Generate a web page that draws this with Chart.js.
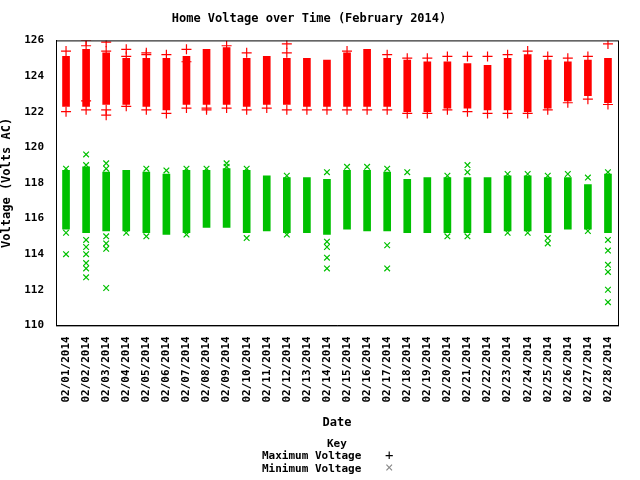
<!DOCTYPE html>
<html><head><meta charset="utf-8">
<script src="https://cdn.jsdelivr.net/npm/chart.js@4"></script>
<style>
body{margin:0;background:#fff;}
#w{position:relative;width:640px;height:480px;}
.lg{position:absolute;font:bold 11px "DejaVu Sans Mono",monospace;color:#000;white-space:pre;}
</style></head><body>
<div id="w"><canvas id="c" width="640" height="480"></canvas>
<div class="lg" style="left:327px;top:437px;">Key</div>
<div class="lg" style="left:262px;top:449px;">Maximum Voltage</div>
<div class="lg" style="left:262px;top:462px;">Minimum Voltage</div>
<div class="lg" style="left:385px;top:447px;font-size:14px;font-weight:normal;">+</div>
<div class="lg" style="left:385px;top:459px;font-size:14px;font-weight:normal;color:#888;">×</div>
</div>
<script>
const dates=["02/01/2014","02/02/2014","02/03/2014","02/04/2014","02/05/2014","02/06/2014","02/07/2014","02/08/2014","02/09/2014","02/10/2014","02/11/2014","02/12/2014","02/13/2014","02/14/2014","02/15/2014","02/16/2014","02/17/2014","02/18/2014","02/19/2014","02/20/2014","02/21/2014","02/22/2014","02/23/2014","02/24/2014","02/25/2014","02/26/2014","02/27/2014","02/28/2014"];
const maxLo=[122.3,122.3,122.4,122.4,122.3,122.1,122.4,122.4,122.4,122.3,122.4,122.4,122.3,122.3,122.3,122.3,122.3,122.0,122.0,122.2,122.2,122.1,122.1,122.0,122.2,122.6,122.9,122.5];
const maxHi=[125.1,125.5,125.3,125.0,125.0,125.0,125.1,125.5,125.6,125.0,125.1,125.0,125.0,124.9,125.3,125.5,125.0,124.9,124.8,124.8,124.7,124.6,125.0,125.2,124.9,124.8,124.9,125.0];
const maxOut=[[125.4,122.0],[126.0,125.7,122.1,122.6],[125.9,125.4,122.1,121.8],[125.5,125.1,122.3],[125.3,125.2,122.1],[125.2,121.9],[125.5,124.8,122.2],[122.1,122.2],[125.7,122.2],[125.3,122.1],[122.2],[125.8,125.3,122.1],[122.1],[122.1],[125.4,122.1],[122.1],[125.2,122.1],[125.0,121.9],[125.0,121.9],[125.1,122.1],[125.1,122.0],[125.1,121.9],[125.2,121.9],[125.4,121.9],[125.1,122.1],[125.0,122.5],[125.1,122.7],[125.8,122.4]];
const minLo=[115.4,115.2,115.3,115.3,115.2,115.1,115.2,115.5,115.5,115.2,115.3,115.2,115.2,115.1,115.4,115.3,115.3,115.2,115.2,115.2,115.2,115.2,115.3,115.3,115.2,115.4,115.4,115.2];
const minHi=[118.7,118.9,118.6,118.7,118.6,118.5,118.7,118.7,118.8,118.7,118.4,118.3,118.3,118.2,118.7,118.7,118.6,118.2,118.3,118.3,118.3,118.3,118.4,118.4,118.3,118.3,117.9,118.5];
const minOut=[[118.8,115.2,114.0],[119.6,119.0,115.7,114.8,114.4,114.0,113.5,113.2,112.7],[119.1,118.8,115.5,115.0,114.6,114.3,112.1],[115.2],[118.8,115.0],[118.7,118.3],[118.8,115.1],[118.8],[119.1,118.9],[118.8,114.9],[],[118.4,115.1],[],[118.6,114.7,114.4,113.8,113.2],[118.9],[118.9],[118.8,114.5,113.2],[118.6],[],[118.4,115.0],[119.0,118.6,115.0],[],[118.5,115.2],[118.5,115.2],[118.4,114.9,114.6],[118.5],[118.3,115.3],[118.6,114.8,114.2,113.4,113.0,112.0,111.3]];
const yTicks=[110,112,114,116,118,120,122,124,126];

const F='"DejaVu Sans Mono", monospace';
const pts=(arr)=>arr.flatMap((v,i)=>v.map(y=>({x:i+1,y})));
const border={id:'border',afterDatasetsDraw(ch){const a=ch.chartArea,c=ch.ctx;c.save();c.strokeStyle='#000';c.lineWidth=1;c.strokeRect(a.left+.5,a.top+.5,a.right-a.left,a.bottom-a.top);c.restore();}};
new Chart(document.getElementById('c'),{
 type:'bar',
 data:{datasets:[
  {type:'bar',data:maxLo.map((v,i)=>({x:i+1,y:[v,maxHi[i]]})),backgroundColor:'#ff0000',barThickness:7,grouped:false},
  {type:'bar',data:minLo.map((v,i)=>({x:i+1,y:[v,minHi[i]]})),backgroundColor:'#00c000',barThickness:7,grouped:false},
  {type:'scatter',data:pts(maxOut),pointStyle:'cross',radius:5,borderColor:'#ff0000',borderWidth:1.2},
  {type:'scatter',data:pts(minOut),pointStyle:'crossRot',radius:4,borderColor:'#00c000',borderWidth:1.2}
 ]},
 options:{responsive:false,animation:false,
  layout:{padding:{right:22,bottom:46}},
  plugins:{legend:{display:false},tooltip:{enabled:false},
   title:{display:true,text:'Home Voltage over Time (February 2014)',color:'#000',font:{family:F,size:12,weight:'bold'},padding:{top:12,bottom:14}}},
  scales:{
   x:{type:'linear',min:1,max:28,grid:{display:false},border:{color:'#000'},
      afterBuildTicks(s){s.ticks=dates.map((d,i)=>({value:i+1}));},
      ticks:{autoSkip:false,maxRotation:90,minRotation:90,color:'#000',font:{family:F,size:11,weight:'bold'},callback:(v)=>dates[v-1]},
      title:{display:true,text:'Date',color:'#000',font:{family:F,size:12,weight:'bold'},padding:{top:10}}},
   y:{min:110,max:126,grid:{display:false},border:{color:'#000'},
      afterBuildTicks(s){s.ticks=yTicks.map(v=>({value:v}));},
      afterFit(s){s.width=56;},
      ticks:{color:'#000',font:{family:F,size:11,weight:'bold'},padding:4},
      title:{display:true,text:'Voltage (Volts AC)',color:'#000',font:{family:F,size:12,weight:'bold'},padding:0}}
  }},
 plugins:[border]
});
</script></body></html>
